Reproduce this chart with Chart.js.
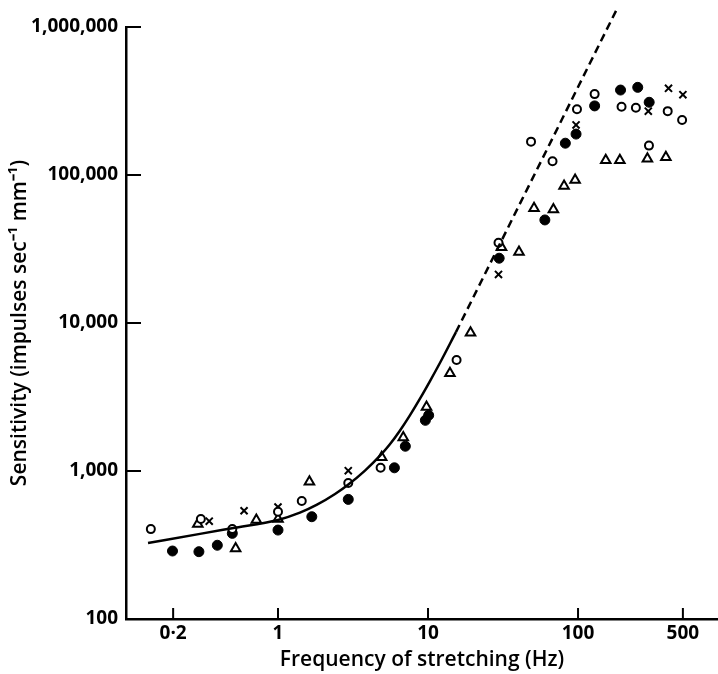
<!DOCTYPE html>
<html>
<head>
<meta charset="utf-8">
<script src="https://cdn.jsdelivr.net/npm/chart.js@4.4.1/dist/chart.umd.min.js"></script>
<style>
  html, body { margin: 0; padding: 0; background: #fff; overflow: hidden; }
  canvas { display: block; }
</style>
</head>
<body>
<canvas id="sensChart" width="718" height="674"></canvas>
<script>
// open circles
const openX = [0.142, 0.306, 0.496, 1.0, 1.44, 2.94, 4.83, 15.5, 29.5, 48.6, 67.6, 98.4, 129, 195, 243, 297, 396, 494];
const openY = [405, 474, 405, 531, 627, 830, 1051, 5620, 34900, 168000, 124000, 278000, 352000, 289000, 285000, 158000, 270000, 235000];

// filled circles
const filledX = [0.198, 0.297, 0.394, 0.496, 1.0, 1.68, 2.94, 5.97, 7.06, 9.6, 10.1, 29.8, 60.1, 82.3, 97.0, 129, 192, 250, 298];
const filledY = [288, 285, 315, 379, 399, 491, 643, 1051, 1470, 2200, 2380, 27400, 49700, 164000, 189000, 293000, 375000, 391000, 310000];

// open triangles
const triX = [0.292, 0.522, 0.717, 1.0, 1.62, 4.91, 6.84, 9.77, 14.0, 19.2, 30.9, 40.4, 50.9, 68.5, 80.7, 95.6, 153, 190, 290, 385];
const triY = [439, 300, 467, 474, 847, 1238, 1685, 2705, 4575, 8590, 32500, 30200, 59600, 58500, 84300, 92500, 126000, 126000, 129000, 132000];

// crosses
const crossX = [0.348, 0.594, 1.0, 2.94, 29.5, 97.0, 294, 401, 500];
const crossY = [458, 539, 571, 1005, 21300, 218000, 270000, 385000, 349000];

// fitted curve (solid) and its extrapolation (dashed)
const curveX = [0.136, 0.302, 0.494, 1.0, 1.40, 1.82, 2.40, 2.93, 3.80, 4.79, 5.57, 6.49, 7.59, 8.86, 10.33, 12.0, 15.35];
const curveY = [326, 376, 411, 467, 523, 592, 699, 807, 1007, 1269, 1515, 1872, 2386, 3094, 4067, 5364, 8670];
const dashX = [15.35, 184];
const dashY = [8670, 1358000];

const xTicks = [0.2, 1, 10, 100, 500];
const xTickLabels = ["0·2", "1", "10", "100", "500"];
const yTicks = [100, 1000, 10000, 100000, 1000000];
const yTickLabels = ["100", "1,000", "10,000", "100,000", "1,000,000"];

function pts(xs, ys) {
  return xs.map((x, i) => ({ x: x, y: ys[i] }));
}

// short tick marks pointing into the plot
const inwardTicks = {
  id: "inwardTicks",
  afterDraw(chart) {
    const { ctx, chartArea, scales } = chart;
    ctx.save();
    ctx.strokeStyle = "#000";
    ctx.lineWidth = 2;
    ctx.beginPath();
    xTicks.forEach(v => {
      const px = scales.x.getPixelForValue(v);
      ctx.moveTo(px, chartArea.bottom);
      ctx.lineTo(px, chartArea.bottom - 11);
    });
    yTicks.forEach(v => {
      const py = scales.y.getPixelForValue(v);
      ctx.moveTo(chartArea.left, py);
      ctx.lineTo(chartArea.left + 15, py);
    });
    ctx.stroke();
    ctx.restore();
  }
};

const tickFont = { family: "'Open Sans', sans-serif", size: 19, weight: "bold" };

new Chart(document.getElementById("sensChart"), {
  type: "scatter",
  data: {
    datasets: [
      {
        label: "curve",
        data: pts(curveX, curveY),
        showLine: true,
        borderColor: "#000",
        borderWidth: 2.5,
        pointRadius: 0,
        cubicInterpolationMode: "monotone",
      },
      {
        label: "extrapolation",
        data: pts(dashX, dashY),
        showLine: true,
        borderColor: "#000",
        borderWidth: 2.5,
        borderDash: [8, 5],
        pointRadius: 0,
        clip: false,
      },
      {
        label: "open",
        data: pts(openX, openY),
        pointStyle: "circle",
        pointRadius: 4,
        borderWidth: 2,
        borderColor: "#000",
        backgroundColor: "#fff",
      },
      {
        label: "filled",
        data: pts(filledX, filledY),
        pointStyle: "circle",
        pointRadius: 5,
        borderWidth: 1,
        borderColor: "#000",
        backgroundColor: "#000",
      },
      {
        label: "triangle",
        data: pts(triX, triY),
        pointStyle: "triangle",
        pointRadius: 5.5,
        borderWidth: 2,
        borderColor: "#000",
        backgroundColor: "#fff",
      },
      {
        label: "cross",
        data: pts(crossX, crossY),
        pointStyle: "crossRot",
        pointRadius: 5,
        borderWidth: 2,
        borderColor: "#000",
      },
    ],
  },
  options: {
    responsive: false,
    animation: false,
    layout: { autoPadding: false, padding: { top: 27, right: 0, left: 0, bottom: 0 } },
    plugins: {
      legend: { display: false },
      tooltip: { enabled: false },
    },
    scales: {
      x: {
        type: "logarithmic",
        min: 0.097,
        max: 857,
        afterBuildTicks: scale => { scale.ticks = xTicks.map(v => ({ value: v })); },
        afterFit: scale => {
          scale.height = 55;
          scale.paddingLeft = 0;
          scale.paddingRight = 0;
        },
        grid: { display: false, drawTicks: false },
        border: { display: true, color: "#000", width: 2.5 },
        ticks: {
          color: "#000",
          font: tickFont,
          padding: 3,
          autoSkip: false,
          maxRotation: 0,
          callback: v => xTickLabels[xTicks.indexOf(v)],
        },
        title: {
          display: true,
          text: "Frequency of stretching (Hz)",
          color: "#000",
          font: { family: "'Open Sans', sans-serif", size: 21, weight: "600" },
          padding: { top: 0, bottom: 1 },
        },
      },
      y: {
        type: "logarithmic",
        min: 100,
        max: 1000000,
        afterBuildTicks: scale => { scale.ticks = yTicks.map(v => ({ value: v })); },
        afterFit: scale => { scale.width = 126; },
        grid: { display: false, drawTicks: false },
        border: { display: true, color: "#000", width: 2.5 },
        ticks: {
          color: "#000",
          font: tickFont,
          padding: 8,
          autoSkip: false,
          callback: v => yTickLabels[yTicks.indexOf(v)],
        },
        title: {
          display: true,
          text: "Sensitivity (impulses sec⁻¹ mm⁻¹)",
          color: "#000",
          font: { family: "'Open Sans', sans-serif", size: 21, weight: "600" },
          padding: { top: 7, bottom: 0 },
        },
      },
    },
  },
  plugins: [inwardTicks],
});
</script>
</body>
</html>
